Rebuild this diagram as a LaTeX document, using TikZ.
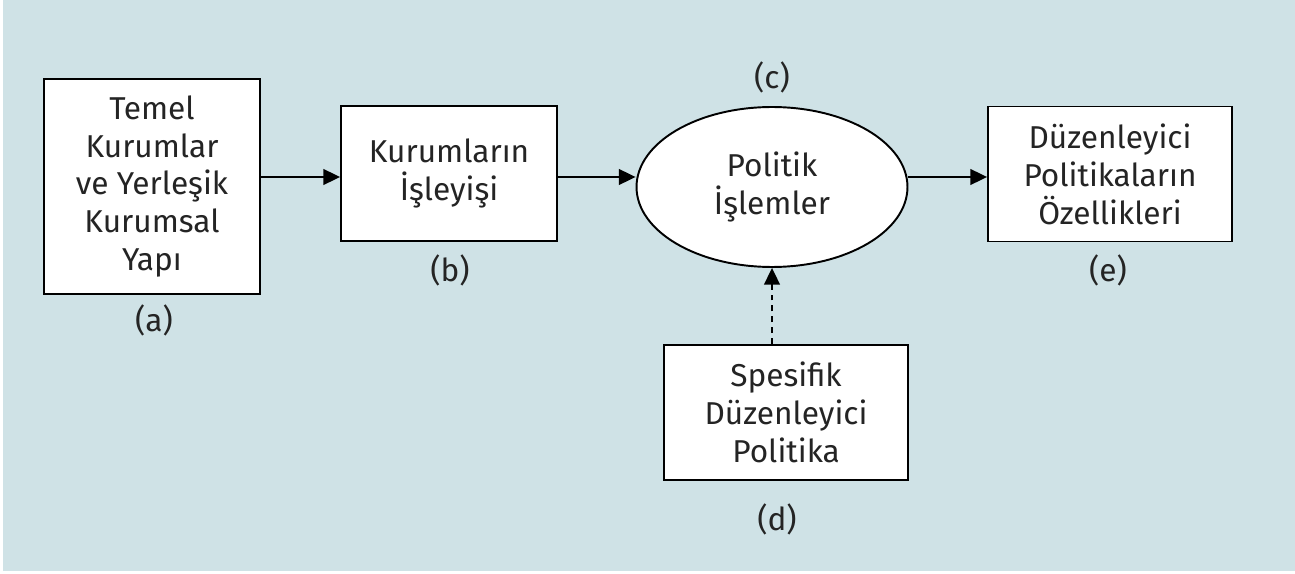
\documentclass[tikz,border=0pt]{standalone}
\usepackage{fontspec}
\setmainfont{Fira Sans}
\usetikzlibrary{positioning, arrows.meta, shapes.geometric}
\definecolor{panel}{RGB}{207,226,230}
\definecolor{ink}{RGB}{36,36,36}

\begin{document}
\begin{tikzpicture}[x=0.02cm, y=-0.02cm,
    box/.style={draw, fill=white, rectangle, minimum height=2.7cm, align=center, line width=1.1pt, text=ink, font=\fontsize{18}{21.6}\selectfont},
    oval/.style={draw, fill=white, ellipse, minimum width=5.42cm, minimum height=3.2cm, align=center, line width=1.1pt, text=ink, font=\fontsize{18}{21.6}\selectfont},
    tag/.style={text=ink, font=\fontsize{18}{21.6}\selectfont},
    arrow/.style={-{Triangle[length=9.5pt, width=9pt]}, line width=0.9pt}
]

% background
\fill[white] (0,0) rectangle (1295,574);
\fill[panel] (3,0) rectangle (1295,571);
\useasboundingbox (0,0) rectangle (1295,574);

\node[box, minimum width=4.32cm, minimum height=4.3cm] (A) at (152,186.5) {Temel\\Kurumlar\\ve Yerleşik\\Kurumsal\\Yapı};
\node[box, minimum width=4.32cm] (B) at (449,173.5) {Kurumların\\İşleyişi};
\node[oval] (C) at (772,187) {Politik\\İşlemler};
\node[box, minimum width=4.88cm] (D) at (786,412.5) {Spesifik\\Düzenleyici\\Politika};
\node[box, minimum width=4.88cm] (E) at (1110,174) {Düzenleyici\\Politikaların\\Özellikleri};

\node[tag] (Atag) at (154,320) {(a)};
\node[tag] (Btag) at (450,270) {(b)};
\node[tag] (Ctag) at (772,77) {(c)};
\node[tag] (Dtag) at (777,519) {(d)};
\node[tag] (Etag) at (1108,270) {(e)};

\coordinate (flow) at (0,177);

\draw[arrow] (A.east |- flow) -- (B.west |- flow);
\draw[arrow] (B.east |- flow) -- (C.west |- flow);
\draw[arrow] (C.east |- flow) -- (E.west |- flow);
\draw[arrow, dash pattern=on 3.4pt off 2.8pt] (C.south |- D.north) -- (C.south);

\end{tikzpicture}
\end{document}
